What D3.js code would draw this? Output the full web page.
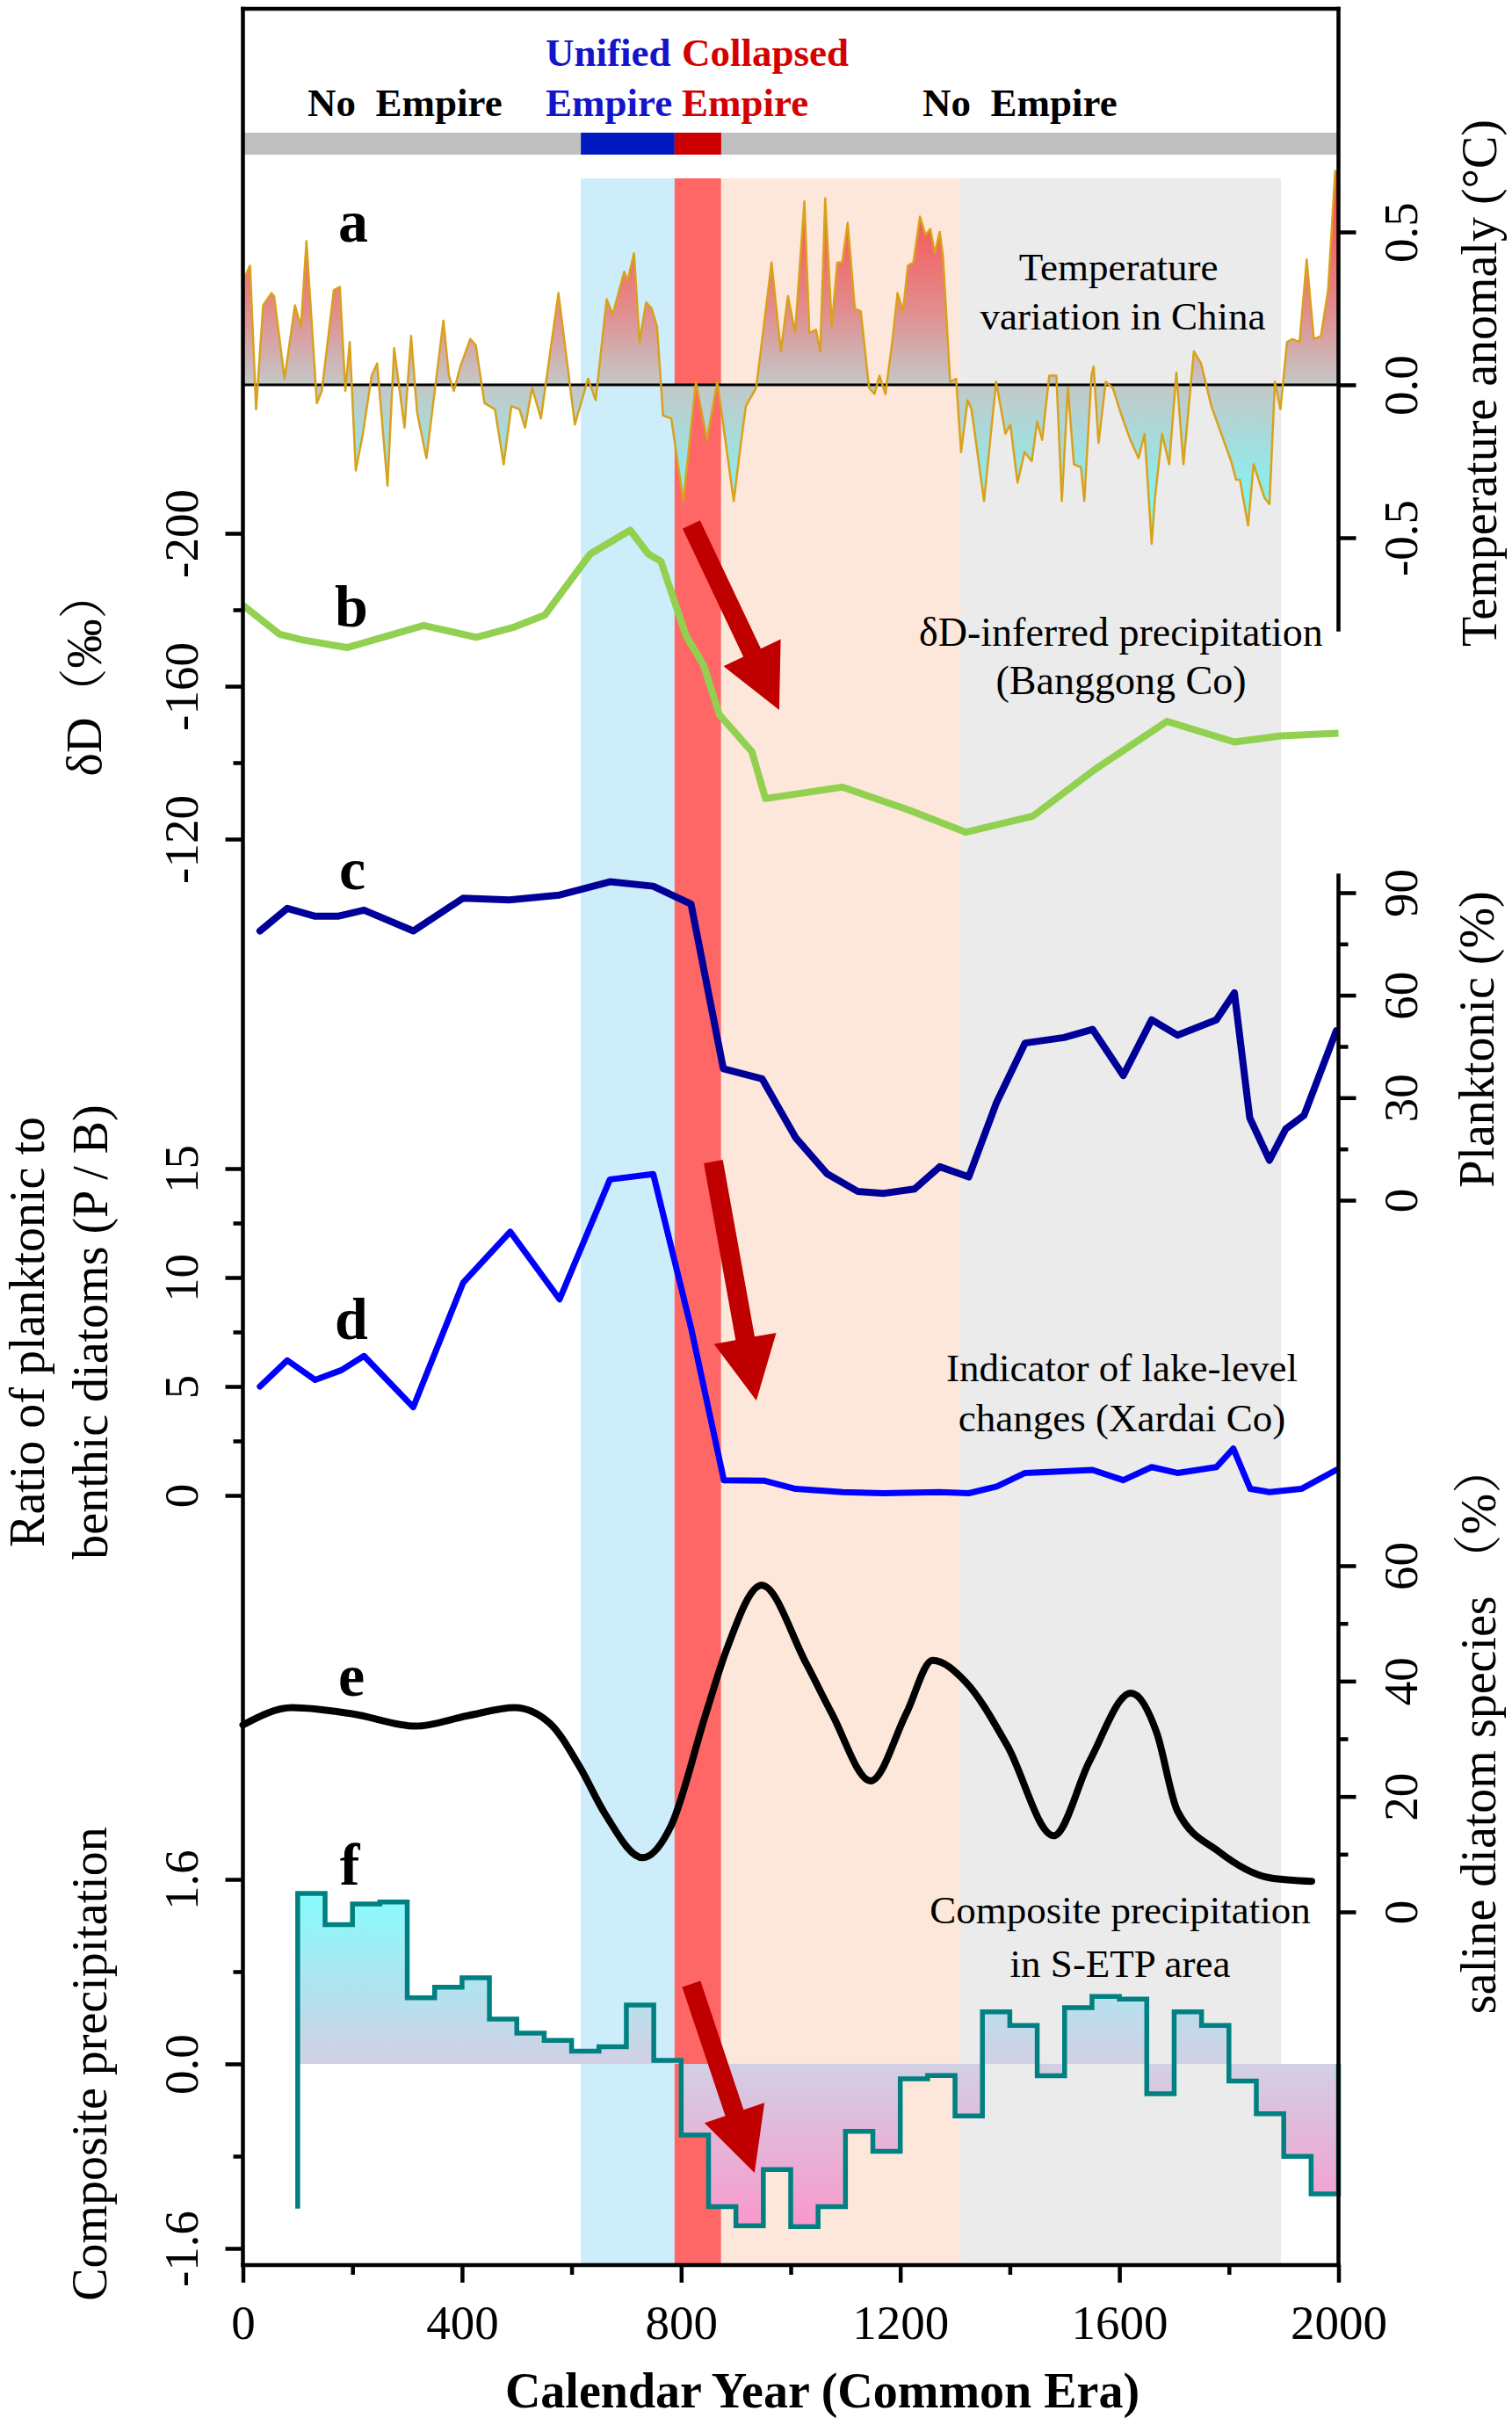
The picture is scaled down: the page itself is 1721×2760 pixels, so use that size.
<!DOCTYPE html>
<html><head><meta charset="utf-8">
<script src="https://cdn.jsdelivr.net/npm/d3@7"></script>
<style>
body{margin:0;background:#fff}
svg{display:block}
text{font-family:"Liberation Serif","Times New Roman","Noto Serif CJK SC","Noto Sans CJK SC",serif}
</style>
</head><body>
<svg id="chart" width="1721" height="2760"></svg>
<script>
// ---------------- DATA ----------------
// a: temperature anomaly in China (°C)
const tempYears = [0,13,24,37,52,57,76,95,106,116,135,144,166,177,187,195,206,219,235,245,264,276,295,307,318,335,366,376,385,397,415,425,441,460,476,490,505,515,528,544,576,606,630,644,664,675,696,702,714,724,736,746,756,767,782,804,827,847,866,896,907,918,937,946,965,982,995,1008,1025,1034,1046,1054,1063,1075,1085,1094,1104,1117,1128,1143,1153,1162,1173,1186,1195,1205,1214,1224,1236,1246,1255,1263,1272,1278,1291,1302,1311,1323,1330,1353,1375,1392,1401,1414,1427,1440,1450,1459,1472,1485,1495,1506,1517,1530,1536,1549,1553,1562,1575,1588,1604,1620,1635,1646,1659,1665,1678,1691,1704,1717,1736,1749,1768,1784,1804,1813,1820,1835,1845,1865,1874,1884,1894,1906,1916,1929,1942,1955,1968,1981,1994,2000];
const tempValues = [0.34,0.39,-0.08,0.26,0.30,0.29,0.02,0.26,0.19,0.47,-0.06,-0.02,0.31,0.32,-0.02,0.14,-0.28,-0.16,0.03,0.07,-0.33,0.12,-0.14,0.16,-0.09,-0.24,0.21,0.03,-0.02,0.06,0.15,0.13,-0.06,-0.08,-0.26,-0.07,-0.08,-0.14,-0.01,-0.11,0.30,-0.13,0.02,-0.05,0.28,0.23,0.37,0.34,0.43,0.14,0.27,0.25,0.19,-0.10,-0.11,-0.38,0.01,-0.18,0.01,-0.38,-0.22,-0.07,-0.01,0.12,0.40,0.11,0.29,0.17,0.60,0.17,0.18,0.11,0.61,0.19,0.40,0.40,0.53,0.25,0.24,-0.01,-0.03,0.03,-0.03,0.15,0.30,0.24,0.39,0.40,0.55,0.49,0.51,0.43,0.50,0.42,0.01,0.02,-0.22,-0.05,-0.08,-0.38,0.01,-0.16,-0.13,-0.32,-0.22,-0.25,-0.12,-0.18,0.03,0.03,-0.38,-0.01,-0.26,-0.27,-0.38,0.03,0.06,-0.19,0.01,-0.01,-0.10,-0.18,-0.24,-0.16,-0.52,-0.37,-0.16,-0.26,0.04,-0.26,0.11,0.07,-0.07,-0.15,-0.25,-0.31,-0.31,-0.46,-0.26,-0.37,-0.39,0.01,-0.08,0.14,0.15,0.14,0.41,0.15,0.16,0.31,0.70,0.70];

// b: δD (‰), Banggong Co
const dDYears  = [0,67,109,190,330,426,496,551,634,707,740,763,809,841,870,929,954,1094,1216,1320,1442,1555,1687,1810,1895,2000];
const dDValues = [-181.2,-173.6,-172.1,-170.1,-175.9,-172.8,-175.5,-178.6,-194.6,-200.8,-194.6,-192.7,-173.2,-165.5,-152.5,-142.9,-130.6,-133.6,-127.6,-121.8,-126,-138.2,-150.8,-145.4,-147,-147.7];

// c: Planktonic (%)
const plankYears  = [31,81,132,173,221,311,402,486,578,670,749,818,877,948,1009,1066,1122,1169,1226,1272,1325,1376,1428,1499,1551,1607,1659,1706,1777,1810,1838,1874,1904,1937,1996];
const plankValues = [78.8,85.4,83.1,83.1,84.9,78.8,88.4,87.9,89.3,93.2,91.9,86.7,38.5,35.5,18.3,7.8,2.6,2.0,3.3,9.8,6.8,28.7,46.0,47.6,50.0,36.5,52.8,48.3,52.8,60.7,24.1,11.7,20.9,24.8,49.6];

// d: P/B ratio
const pbYears  = [31,81,132,180,221,311,402,488,578,670,749,818,878,951,1009,1095,1169,1272,1325,1376,1428,1551,1607,1659,1706,1777,1808,1839,1874,1932,1996];
const pbValues = [5.0,6.2,5.3,5.75,6.4,4.05,9.76,12.1,9.0,14.5,14.75,7.7,0.7,0.68,0.3,0.15,0.1,0.15,0.1,0.41,1.03,1.17,0.7,1.3,1.03,1.3,2.15,0.3,0.15,0.3,1.17];

// e: saline diatom species (%)
const salineYears  = [0,90,201,316,410,496,560,615,661,730,781,845,882,947,1028,1075,1146,1211,1259,1320,1395,1480,1546,1621,1668,1706,1781,1875,1951];
const salineValues = [32.4,35.4,34.3,32.2,34.0,35.4,32.7,25.1,17,9.4,14.8,34.3,45.2,56.6,43.1,34.4,22.7,34.4,43.6,39.8,28.9,13.2,26.2,37.9,31.1,17.5,10.5,5.9,5.3];

// f: composite precipitation (50-yr steps; value holds from step start)
const compStartYear = 100, compStartValue = -1.256;
const compYears  = [100,150,200,250,300,350,400,450,500,550,600,650,700,750,800,850,900,950,1000,1050,1100,1150,1200,1250,1300,1350,1400,1450,1500,1550,1600,1650,1700,1750,1800,1850,1900,1950,2000];
const compValues = [1.478,1.208,1.386,1.404,0.573,0.665,0.746,0.388,0.266,0.203,0.111,0.148,0.510,0.030,-0.617,-1.238,-1.404,-0.916,-1.411,-1.238,-0.584,-0.758,-0.129,-0.100,-0.451,0.451,0.333,-0.103,0.488,0.584,0.562,-0.259,0.451,0.333,-0.148,-0.432,-0.802,-1.127,-1.127];

// historical periods (years CE)
const periodNames = ["Unified Empire","Collapsed Empire","after collapse","No Empire"];
const periodStart = [617,788,873,1310];
const periodEnd   = [788,873,1310,1895];
const periodFill  = ["#cdedfa","#ff6666","#fce7da","#ebebeb"];

// axis ticks
const xMajor = [0,400,800,1200,1600,2000], xMinor = [200,600,1000,1400,1800];
const tempTicks = [-0.5,0,0.5];
const dDMajor = [-200,-160,-120], dDMinor = [-180,-140];
const plankMajor = [0,30,60,90], plankMinor = [15,45,75];
const pbMajor = [0,5,10,15], pbMinor = [2.5,7.5,12.5];
const salineMajor = [0,20,40,60], salineMinor = [10,30,50];
const compMajor = [-1.6,0,1.6], compMinor = [-0.8,0.8];

// arrows: [year, value] in the panel's own scale
const arrowsB = [[818.6,-202.3],[979,-153.8]];
const arrowsD = [[858.7,15.32],[937.3,4.35]];
const arrowsF = [[818.6,0.693],[934,-0.945]];

// ---------------- SCALES ----------------
const L = 276.5, R = 1523.5, TOP = 10, BOT = 2578;
const x  = d3.scaleLinear().domain([0,2000]).range([L,R]);
const yA = d3.scaleLinear().domain([-0.5,0.5]).range([612,264]);
const yB = d3.scaleLinear().domain([-200,-120]).range([607,955]);
const yC = d3.scaleLinear().domain([0,90]).range([1366,1016]);
const yD = d3.scaleLinear().domain([0,15]).range([1702,1330]);
const yE = d3.scaleLinear().domain([0,60]).range([2176,1782]);
const yF = d3.scaleLinear().domain([-1.6,1.6]).range([2559,2139]);

const svg = d3.select("#chart");
const defs = svg.append("defs");

// gradients
const gA = defs.append("linearGradient").attr("id","gradA").attr("gradientUnits","userSpaceOnUse")
  .attr("x1",0).attr("x2",0).attr("y1",yA(0.65)).attr("y2",yA(-0.5));
[[0,"#ff4646"],[0.35,"#e28c8c"],[0.565,"#c4c8c8"],[1,"#70ffff"]].forEach(s=>gA.append("stop").attr("offset",s[0]).attr("stop-color",s[1]));
const gF = defs.append("linearGradient").attr("id","gradF").attr("gradientUnits","userSpaceOnUse")
  .attr("x1",0).attr("x2",0).attr("y1",yF(1.6)).attr("y2",yF(-1.6));
[[0,"#80ffff"],[0.5,"#d2d0e4"],[1,"#ff90c8"]].forEach(s=>gF.append("stop").attr("offset",s[0]).attr("stop-color",s[1]));

// ---------------- SHADING ----------------
svg.append("g").selectAll("rect").data(periodNames).join("rect")
  .attr("x",(d,i)=>x(periodStart[i])).attr("width",(d,i)=>x(periodEnd[i])-x(periodStart[i]))
  .attr("y",203).attr("height",BOT-203).attr("fill",(d,i)=>periodFill[i]);

// top empire bar
svg.append("rect").attr("x",x(0)).attr("width",x(2000)-x(0)).attr("y",151).attr("height",25).attr("fill","#bfbfbf");
svg.append("rect").attr("x",x(periodStart[0])).attr("width",x(periodEnd[0])-x(periodStart[0])).attr("y",151).attr("height",25).attr("fill","#0019c0");
svg.append("rect").attr("x",x(periodStart[1])).attr("width",x(periodEnd[1])-x(periodStart[1])).attr("y",151).attr("height",25).attr("fill","#cc0000");

// ---------------- PANEL a ----------------
const tempData = tempYears.map((t,i)=>[t,tempValues[i]]);
svg.append("path").datum(tempData).attr("fill","url(#gradA)")
  .attr("d", d3.area().x(d=>x(d[0])).y0(yA(0)).y1(d=>yA(d[1])));
svg.append("line").attr("x1",L).attr("x2",R).attr("y1",yA(0)).attr("y2",yA(0)).attr("stroke","#000").attr("stroke-width",3);
svg.append("path").datum(tempData).attr("fill","none").attr("stroke","#d9a11c").attr("stroke-width",2.5).attr("stroke-linejoin","round")
  .attr("d", d3.line().x(d=>x(d[0])).y(d=>yA(d[1])));

// ---------------- PANEL b ----------------
svg.append("path").datum(dDYears.map((t,i)=>[t,dDValues[i]])).attr("fill","none")
  .attr("stroke","#92d050").attr("stroke-width",8).attr("stroke-linejoin","round")
  .attr("d", d3.line().x(d=>x(d[0])).y(d=>yB(d[1])));

// ---------------- PANEL c ----------------
svg.append("path").datum(plankYears.map((t,i)=>[t,plankValues[i]])).attr("fill","none")
  .attr("stroke","#000099").attr("stroke-width",8).attr("stroke-linejoin","round").attr("stroke-linecap","round")
  .attr("d", d3.line().x(d=>x(d[0])).y(d=>yC(d[1])));

// ---------------- PANEL d ----------------
svg.append("path").datum(pbYears.map((t,i)=>[t,pbValues[i]])).attr("fill","none")
  .attr("stroke","#0000ff").attr("stroke-width",7).attr("stroke-linejoin","round").attr("stroke-linecap","round")
  .attr("d", d3.line().x(d=>x(d[0])).y(d=>yD(d[1])));

// ---------------- PANEL e ----------------
svg.append("path").datum(salineYears.map((t,i)=>[t,salineValues[i]])).attr("fill","none")
  .attr("stroke","#000").attr("stroke-width",8).attr("stroke-linejoin","round").attr("stroke-linecap","round")
  .attr("d", d3.line().curve(d3.curveMonotoneX).x(d=>x(d[0])).y(d=>yE(d[1])));

// ---------------- PANEL f ----------------
const compData = compYears.map((t,i)=>[t,compValues[i]]);
svg.append("path").datum(compData).attr("fill","url(#gradF)")
  .attr("d", d3.area().curve(d3.curveStepAfter).x(d=>x(d[0])).y0(yF(0)).y1(d=>yF(d[1])));
const compLine = [[compStartYear,compStartValue]].concat(compData).concat([[2000,0]]);
svg.append("path").datum(compLine).attr("fill","none").attr("stroke","#008080").attr("stroke-width",5.5)
  .attr("d", d3.line().curve(d3.curveStepAfter).x(d=>x(d[0])).y(d=>yF(d[1])));

// ---------------- ARROWS ----------------
function arrow(p0,p1){
  const [x0,y0]=p0,[x1,y1]=p1;
  const dx=x1-x0, dy=y1-y0, len=Math.hypot(dx,dy);
  const ux=dx/len, uy=dy/len, nx=-uy, ny=ux;
  const sw=11, hw=36, hl=72;
  const bx=x1-ux*hl, by=y1-uy*hl;
  const pts=[[x0+nx*sw,y0+ny*sw],[bx+nx*sw,by+ny*sw],[bx+nx*hw,by+ny*hw],[x1,y1],[bx-nx*hw,by-ny*hw],[bx-nx*sw,by-ny*sw],[x0-nx*sw,y0-ny*sw]];
  svg.append("polygon").attr("points",pts.map(p=>p.join(",")).join(" ")).attr("fill","#c00000");
}
arrow([x(arrowsB[0][0]),yB(arrowsB[0][1])],[x(arrowsB[1][0]),yB(arrowsB[1][1])]);
arrow([x(arrowsD[0][0]),yD(arrowsD[0][1])],[x(arrowsD[1][0]),yD(arrowsD[1][1])]);
arrow([x(arrowsF[0][0]),yF(arrowsF[0][1])],[x(arrowsF[1][0]),yF(arrowsF[1][1])]);

// ---------------- FRAME / AXES ----------------
const AW = 4.5;
const frame = svg.append("g").attr("stroke","#000").attr("stroke-width",AW).attr("stroke-linecap","square");
frame.append("line").attr("x1",L).attr("x2",R).attr("y1",TOP).attr("y2",TOP);
frame.append("line").attr("x1",L).attr("x2",L).attr("y1",TOP).attr("y2",BOT);
frame.append("line").attr("x1",L).attr("x2",R).attr("y1",BOT).attr("y2",BOT);
frame.append("line").attr("x1",R).attr("x2",R).attr("y1",TOP).attr("y2",yA(-0.8));
frame.append("line").attr("x1",R).attr("x2",R).attr("y1",yC(95)).attr("y2",BOT);

const fmt1 = d=>d.toFixed(1), fmt0 = d=>String(d);
function yAxis(scale, side, majors, minors, fmt){
  const make = side==="right" ? d3.axisRight : d3.axisLeft;
  const ax = side==="right" ? R : L;
  const g = svg.append("g").attr("transform",`translate(${ax},0)`)
    .call(make(scale).tickValues(majors).tickSize(20).tickSizeOuter(0).tickFormat(fmt));
  g.select(".domain").remove();
  g.attr("font-family",null).attr("font-size",55);
  g.selectAll(".tick line").attr("stroke","#000").attr("stroke-width",AW);
  g.selectAll(".tick text").attr("x",null).attr("dy",null).attr("fill","#000")
    .attr("text-anchor","middle")
    .attr("transform", side==="right" ? "translate(89.5,0) rotate(-90)" : "translate(-51.5,0) rotate(-90)");
  if(minors.length){
    const m = svg.append("g").attr("transform",`translate(${ax},0)`)
      .call(make(scale).tickValues(minors).tickSize(11).tickSizeOuter(0).tickFormat(()=>""));
    m.select(".domain").remove();
    m.selectAll(".tick line").attr("stroke","#000").attr("stroke-width",AW);
  }
}
yAxis(yA,"right",tempTicks,[],fmt1);
yAxis(yB,"left",dDMajor,dDMinor,fmt0);
yAxis(yC,"right",plankMajor,plankMinor,fmt0);
yAxis(yD,"left",pbMajor,pbMinor,fmt0);
yAxis(yE,"right",salineMajor,salineMinor,fmt0);
yAxis(yF,"left",compMajor,compMinor,fmt1);

const gx = svg.append("g").attr("transform",`translate(0,${BOT})`)
  .call(d3.axisBottom(x).tickValues(xMajor).tickSize(20).tickSizeOuter(0).tickFormat(fmt0));
gx.select(".domain").remove();
gx.attr("font-family",null).attr("font-size",55);
gx.selectAll(".tick line").attr("stroke","#000").attr("stroke-width",AW);
gx.selectAll(".tick text").attr("y",84).attr("dy",null).attr("fill","#000");
const gxm = svg.append("g").attr("transform",`translate(0,${BOT})`)
  .call(d3.axisBottom(x).tickValues(xMinor).tickSize(11).tickSizeOuter(0).tickFormat(()=>""));
gxm.select(".domain").remove();
gxm.selectAll(".tick line").attr("stroke","#000").attr("stroke-width",AW);

// ---------------- TEXT ----------------
function txt(xp,yp,s,size,opts={}){
  return svg.append("text").attr("x",xp).attr("y",yp).attr("font-size",size)
    .attr("text-anchor",opts.anchor||"middle").attr("fill",opts.fill||"#000")
    .attr("font-weight",opts.bold?"bold":"normal").style("white-space","pre").text(s);
}
function vtxt(xp,yp,s,size,opts={}){
  svg.append("text").attr("transform",`translate(${xp},${yp}) rotate(-90)`).attr("font-size",size)
    .attr("text-anchor","middle").attr("fill",opts.fill||"#000").style("white-space","pre").text(s);
}
// empire labels
txt(350,132,"No  Empire",45,{anchor:"start",bold:true});
txt(621,75,"Unified",45,{anchor:"start",bold:true,fill:"#1414c8"});
txt(621,132,"Empire",45,{anchor:"start",bold:true,fill:"#1414c8"});
txt(776,75,"Collapsed",45,{anchor:"start",bold:true,fill:"#d40000"});
txt(776,132,"Empire",45,{anchor:"start",bold:true,fill:"#d40000"});
txt(1050,132,"No  Empire",45,{anchor:"start",bold:true});

// panel letters
txt(402,275,"a",68,{bold:true});
txt(400,713,"b",68,{bold:true});
txt(401,1012,"c",68,{bold:true});
txt(400,1524,"d",68,{bold:true});
txt(400,1930,"e",68,{bold:true});
txt(398,2145,"f",68,{bold:true});

// annotations
txt(1273,319,"Temperature",45);
txt(1278,375,"variation in China",45);
txt(1276,735,"δD-inferred precipitation",46);
txt(1276,790,"(Banggong Co)",46);
txt(1277,1572,"Indicator of lake-level",45);
txt(1277,1629,"changes (Xardai Co)",45);
txt(1275,2189,"Composite precipitation",45);
txt(1275,2250,"in S-ETP area",45);

// axis titles
vtxt(1703,436,"Temperature anomaly (°C)",56);
vtxt(1700,1183,"Planktonic (%)",56);
vtxt(1702,1968,"saline diatom species （%）",56);
vtxt(115,766,"δD（‰）",56);
vtxt(50,1516,"Ratio of planktonic to",56);
vtxt(122,1516,"benthic diatoms (P / B)",56);
vtxt(121,2349,"Composite precipitation",56);
txt(936,2740,"Calendar Year (Common Era)",56,{bold:true});
</script>
</body></html>
